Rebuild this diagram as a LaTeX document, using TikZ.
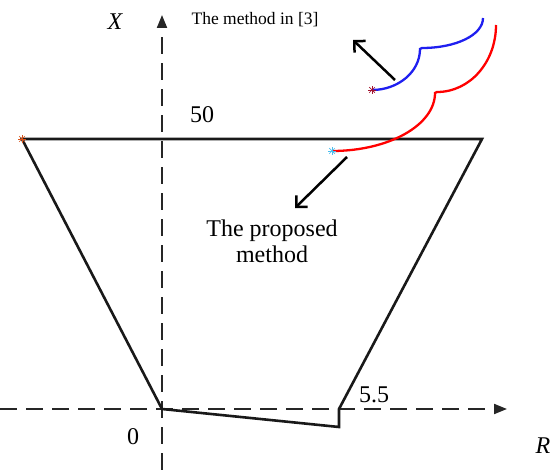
\documentclass[tikz,border=0pt]{standalone}
\usepackage{fontspec}
\setmainfont{Liberation Serif}
\usepackage{xcolor}
\definecolor{axisgray}{HTML}{262626}
\definecolor{mkorange}{HTML}{D95319}
\definecolor{mkcyan}{HTML}{4DBEEE}
\definecolor{mkred}{HTML}{A2142F}
\definecolor{oldblue}{HTML}{1F1FF0}
\usetikzlibrary{arrows.meta, positioning}
\newcommand{\astmark}[2]{%
  \foreach \ang in {0,45,90,135}
    \draw[#1, line width=0.7pt] (#2) ++(\ang:4) -- ++(\ang+180:8);}

\begin{document}
\begin{tikzpicture}[
  x=1pt, y=-1pt,
  font=\fontsize{24}{26}\selectfont,
  axis/.style={
    axisgray, line width=2pt, dash pattern=on 17pt off 9pt,
    -{Triangle[length=13pt, width=10pt]}
  },
  edge/.style={black!90, line width=2.6pt},
  curve/.style={line width=2.3pt},
  lbl/.style={inner sep=0pt},
  arr/.style={-{Straight Barb[length=8pt, width=16pt]}, black, line width=2.5pt}
]
  \useasboundingbox (0,0) rectangle (552,470);

  % axes
  \coordinate (xs) at (162,470);
  \coordinate (xe) at (162,15);
  \coordinate (rs) at (0,409);
  \coordinate (re) at (507,409);
  \draw[axis] (xs) -- (xe);
  \draw[axis] (rs) -- (re);

  % region
  \coordinate (tl) at (22,139);
  \coordinate (tr) at (482,139);
  \coordinate (br) at (339,409);
  \coordinate (bl) at (339,427);
  \coordinate (o)  at (162,409);
  \draw[edge, line join=miter] (tl) -- (tr) -- (br) -- (bl) -- (o) -- cycle;

  % trajectories
  \coordinate (b0) at (372,90);
  \coordinate (b1) at (420,49);
  \coordinate (b2) at (422,48);
  \coordinate (b3) at (483,18);
  \draw[curve, oldblue] (b0) .. controls (398,90) and (420,72) .. (b1) -- (b2)
    .. controls (456,48) and (483,35) .. (b3);
  \coordinate (r0) at (332,151);
  \coordinate (r1) at (435,93);
  \coordinate (r2) at (437,92);
  \coordinate (r3) at (496,25);
  \draw[curve, red] (r0) .. controls (389,151) and (435,125) .. (r1) -- (r2)
    .. controls (470,92) and (496,62) .. (r3);

  \astmark{mkorange}{tl}
  \astmark{mkcyan}{r0}
  \astmark{mkred}{b0}

  % labels
  \node[lbl] (xl) at (115,22) {\itshape X};
  \node[lbl] (rl) at (543,446) {\itshape R};
  \node[lbl] (zero) at (133,437) {0};
  \node[lbl] (fifty) at (202,115) {50};
  \node[lbl] (five) at (374,395) {5.5};
  \node[lbl, font=\fontsize{17.5}{19}\selectfont] (m3) at (255,20) {The method in [3]};
  \node[lbl, align=center] (pm) at (272,241) {The proposed\\method};

  \coordinate (a1) at (395,80);
  \coordinate (a2) at (353,40);
  \coordinate (p1) at (347,157);
  \coordinate (p2) at (295,208);
  \foreach \a/\b in {a1/a2,p1/p2}
    \draw[arr] (\a) -- (\b);
\end{tikzpicture}
\end{document}
